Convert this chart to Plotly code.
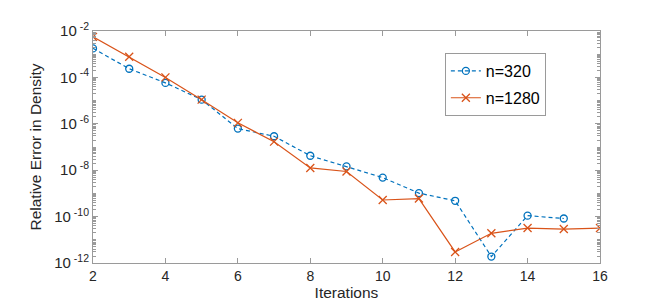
import plotly.graph_objects as go

iters_320 = [2, 3, 4, 5, 6, 7, 8, 9, 10, 11, 12, 13, 14, 15]
err_320 = [1.78e-3, 2.36e-4, 5.8e-5, 1.1e-5, 6.2e-7, 2.9e-7, 4.2e-8, 1.47e-8,
           4.8e-9, 1.03e-9, 4.8e-10, 1.9e-12, 1.1e-10, 8.3e-11]

iters_1280 = [2, 3, 4, 5, 6, 7, 8, 9, 10, 11, 12, 13, 14, 15, 16]
err_1280 = [5.6e-3, 7.7e-4, 1.0e-4, 1.1e-5, 1.1e-6, 1.7e-7, 1.25e-8, 8.8e-9,
            5.2e-10, 6.0e-10, 3.0e-12, 1.9e-11, 3.2e-11, 2.9e-11, 3.2e-11]

x_ticks = [2, 4, 6, 8, 10, 12, 14, 16]
y_tick_exps = [-2, -4, -6, -8, -10, -12]

blue = "#0072BD"
orange = "#D95319"
axis_col = "#9a9a9a"
text_col = "#262626"
font_family = "Liberation Sans, Arial, sans-serif"

fig = go.Figure()
fig.add_trace(go.Scatter(
    x=iters_320, y=err_320, name="n=320", mode="lines+markers", legendgroup="a",
    line=dict(color=blue, width=1.2, dash="4px,3px"),
    marker=dict(symbol="circle-open", size=7, color=blue, line=dict(width=1.3, color=blue)),
))
fig.add_trace(go.Scatter(
    x=iters_1280, y=err_1280, name="n=1280", mode="lines+markers", legendgroup="b",
    line=dict(color=orange, width=1.2),
    marker=dict(symbol="x-thin-open", size=8, color=orange, line=dict(width=1.3, color=orange)),
))

fig.update_layout(
    width=654, height=302,
    margin=dict(l=85, r=62, t=23, b=39),
    paper_bgcolor="white", plot_bgcolor="white",
    font=dict(family=font_family, size=14, color=text_col),
    showlegend=True,
    legend=dict(
        x=0.694, y=0.905, xanchor="left", yanchor="top",
        bordercolor=axis_col, borderwidth=1, bgcolor="white",
        font=dict(size=16, color="black"), itemwidth=30,
        tracegroupgap=3,
    ),
    xaxis=dict(
        range=[2, 16], tickvals=x_ticks, ticktext=[str(v) for v in x_ticks],
        showgrid=False, zeroline=False, showline=True, mirror="ticks",
        linecolor=axis_col, linewidth=1, ticks="inside", ticklen=5, tickcolor=axis_col,
        tickfont=dict(size=14, color=text_col),
        title=dict(text="Iterations", font=dict(size=15.5, color=text_col), standoff=3),
    ),
    yaxis=dict(
        type="log", range=[-12, -2],
        tickvals=[10.0 ** e for e in y_tick_exps],
        ticktext=["10<sup> %d</sup>" % e for e in y_tick_exps],
        showgrid=False, zeroline=False, showline=True, mirror="ticks",
        linecolor=axis_col, linewidth=1, ticks="inside", ticklen=5, tickcolor=axis_col,
        tickfont=dict(size=15, color=text_col),
        minor=dict(ticks="inside", ticklen=3, tickcolor=axis_col, dtick="D1", showgrid=False),
        title=dict(text="Relative Error in Density", font=dict(size=15.5, color=text_col), standoff=8),
    ),
)

fig.write_html("out.html")
